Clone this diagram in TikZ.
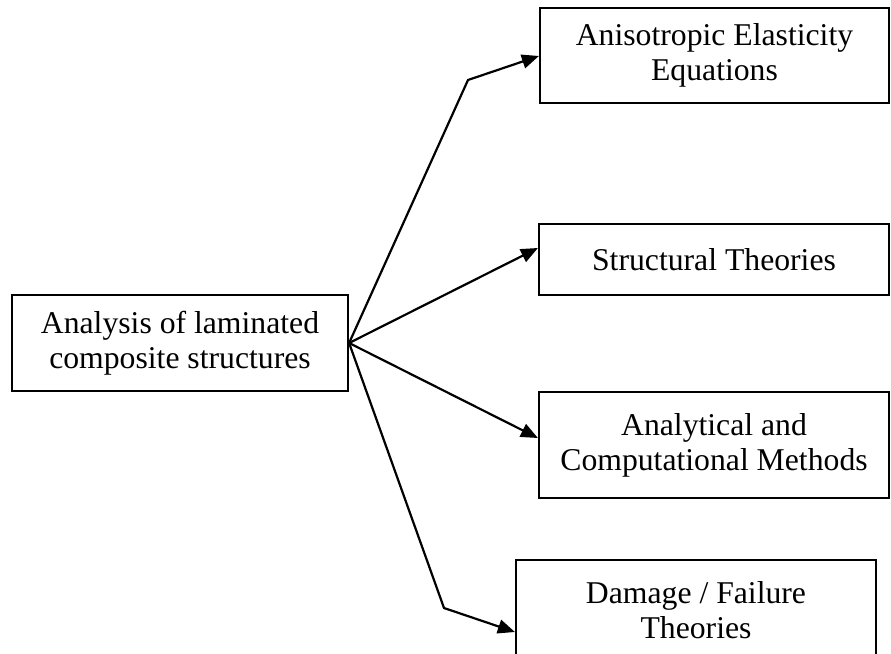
\documentclass[tikz,border=0pt]{standalone}
\usepackage{fontspec}
\setmainfont{Liberation Serif}
\usetikzlibrary{arrows.meta,calc}
\tikzset{
  box/.style={draw=black, line width=2.2pt, rectangle, inner sep=0pt, align=center,
    font=\fontsize{31.7}{35}\selectfont},
  conn/.style={draw=black, line width=2.2pt, -{Triangle[length=17pt,width=14pt]}, line join=miter}
}
\begin{document}
\begin{tikzpicture}[x=1pt,y=-1pt]
\clip (0,0) rectangle (891,653);
\fill[white] (0,0) rectangle (891,653);
\node[box, minimum width=336pt, minimum height=96pt] (L) at (180,343) {Analysis of laminated\\composite structures};
\node[box, minimum width=349pt, minimum height=95pt] (B1) at (714.5,55.5) {Anisotropic Elasticity\\Equations};
\node[box, minimum width=350pt, minimum height=71pt] (B2) at (714,259.5) {Structural Theories};
\node[box, minimum width=350pt, minimum height=106pt] (B3) at (714,445) {Analytical and\\Computational Methods};
\node[box, minimum width=360pt, minimum height=100pt] (B4) at (696,610) {Damage / Failure\\Theories};
\coordinate (k1) at (468,80);
\coordinate (k4) at (444,608);
\draw[conn] (L.east) -- (k1) -- ([yshift=-0.5pt]B1.west);
\draw[conn] (L.east) -- ([yshift=11.5pt]B2.west);
\draw[conn] (L.east) -- ([yshift=7pt]B3.west);
\draw[conn] (L.east) -- (k4) -- ([yshift=-22pt]B4.west);
\end{tikzpicture}
\end{document}
